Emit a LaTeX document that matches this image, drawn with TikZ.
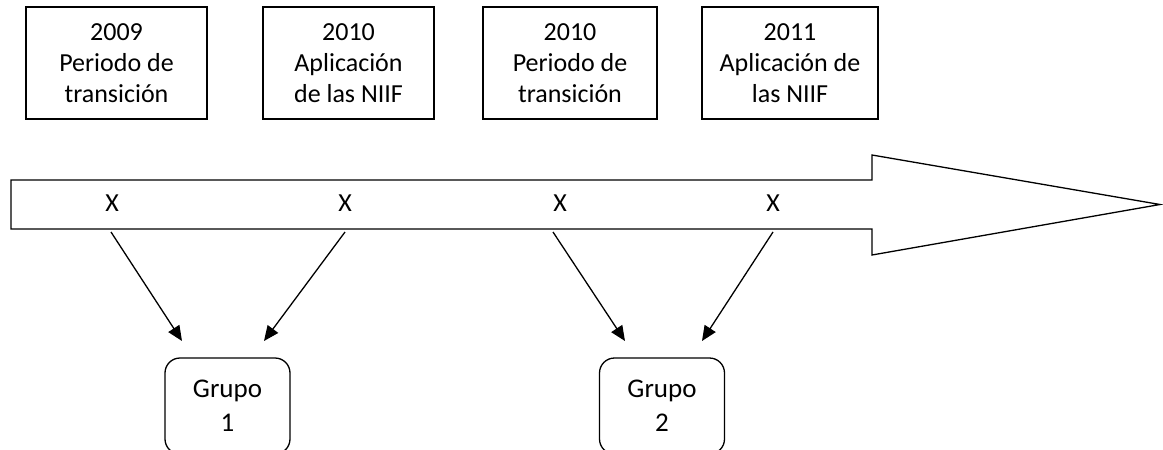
\documentclass[tikz,border=0pt]{standalone}
\usepackage{fontspec}
\setmainfont{Carlito}
\usetikzlibrary{arrows.meta}
\begin{document}
\begin{tikzpicture}[x=1pt,y=-1pt,
  yearbox/.style={draw,line width=1.3pt,inner sep=0pt,align=center,minimum height=112pt,
    font=\fontsize{26}{31}\selectfont},
  grupobox/.style={draw,line width=1.3pt,rounded corners=15pt,inner sep=0pt,align=center,
    minimum width=125pt,minimum height=96pt,font=\fontsize{27}{34}\selectfont},
  mark label/.style={inner sep=0pt,font=\fontsize{26}{31}\selectfont},
  timearrow/.style={draw,line width=1.3pt,fill=white,line join=miter},
  link/.style={line width=1.3pt,-{Triangle[length=15pt,width=13pt]}}]
\useasboundingbox (0,0) rectangle (1163,450);
% top boxes
\node[yearbox,minimum width=181pt] (b1) at (116.5,63) {2009\\Periodo de\\transición};
\node[yearbox,minimum width=171pt] (b2) at (348.5,63) {2010\\Aplicación\\de las NIIF};
\node[yearbox,minimum width=174pt] (b3) at (570,63) {2010\\Periodo de\\transición};
\node[yearbox,minimum width=176pt] (b4) at (790,63) {2011\\Aplicación de\\las NIIF};
% timeline arrow
\path[timearrow] (11,180) -- (872,180) -- (872,155) -- (1160,204.5) -- (872,255) -- (872,229) -- (11,229) -- cycle;
\node[mark label] (x1) at (112,203) {X};
\node[mark label] (x2) at (345,203) {X};
\node[mark label] (x3) at (560,203) {X};
\node[mark label] (x4) at (773,203) {X};
% groups
\node[grupobox] (g1) at (227.5,406) {Grupo\\1};
\node[grupobox] (g2) at (662,406) {Grupo\\2};
% connector ends
\coordinate (a1) at (111,232);
\coordinate (a2) at (345,232);
\coordinate (a3) at (553,232);
\coordinate (a4) at (773,232);
\coordinate (t1) at (182,341);
\coordinate (t2) at (264,341);
\coordinate (t3) at (625,341);
\coordinate (t4) at (702,341);
\draw[link] (a1) -- (t1);
\draw[link] (a2) -- (t2);
\draw[link] (a3) -- (t3);
\draw[link] (a4) -- (t4);
\end{tikzpicture}
\end{document}
